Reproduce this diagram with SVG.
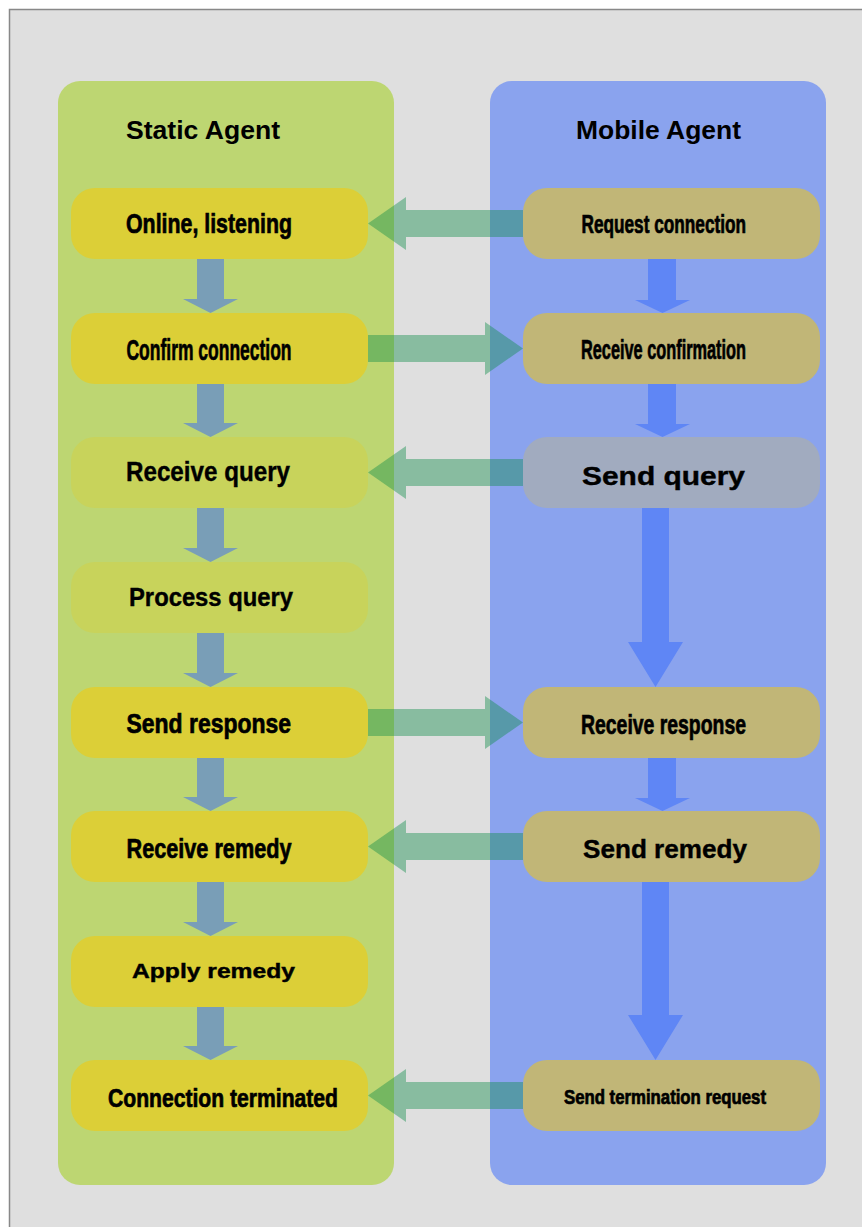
<svg xmlns="http://www.w3.org/2000/svg" width="862" height="1227" viewBox="0 0 862 1227">
  <style>
    .panel-static { fill: #bdd672; }
    .panel-mobile { fill: #8aa3ee; }
    .node-static { fill: #dccf37; }
    .node-static-light { fill: #c8d35b; }
    .node-mobile { fill: #c1b677; }
    .node-mobile-grey { fill: #a1abbf; }
    .flow-static { fill: #799eb7; }
    .flow-mobile { fill: #5f86f5; }
    .msg { fill: #118d4b; fill-opacity: 0.42; }
    text { font-family: "Liberation Sans", Arial, sans-serif; font-weight: bold; fill: #000; }
    .title { font-size: 25px; }
    .cond { stroke: #000; stroke-width: 0.7px; }
    .wide { stroke: #000; stroke-width: 0.4px; }
  </style>

  <!-- page frame -->
  <rect x="0" y="0" width="862" height="1227" fill="#ffffff"/>
  <rect x="9.5" y="9.5" width="900" height="1300" fill="#dfdfdf" stroke="#888888" stroke-width="1.5"/>

  <!-- swimlanes -->
  <g id="lane-static">
    <rect class="panel-static" x="58" y="81" width="336" height="1104" rx="22"/>
    <text class="title" x="126" y="139" textLength="154" lengthAdjust="spacingAndGlyphs">Static Agent</text>
  </g>
  <g id="lane-mobile">
    <rect class="panel-mobile" x="490" y="81" width="336" height="1104" rx="22"/>
    <text class="title" x="576" y="139" textLength="165" lengthAdjust="spacingAndGlyphs">Mobile Agent</text>
  </g>

  <!-- connectors -->
  <g id="connectors">
    <!-- static agent sequence -->
    <path class="flow-static" d="M197 259 H224 V299 H238 L210.5 313 L183 299 H197 Z"/>
    <path class="flow-static" d="M197 384 H224 V423 H238 L210.5 437 L183 423 H197 Z"/>
    <path class="flow-static" d="M197 508 H224 V548 H238 L210.5 562 L183 548 H197 Z"/>
    <path class="flow-static" d="M197 633 H224 V673 H238 L210.5 687 L183 673 H197 Z"/>
    <path class="flow-static" d="M197 758 H224 V797 H238 L210.5 811 L183 797 H197 Z"/>
    <path class="flow-static" d="M197 882 H224 V922 H238 L210.5 936 L183 922 H197 Z"/>
    <path class="flow-static" d="M197 1007 H224 V1046 H238 L210.5 1060 L183 1046 H197 Z"/>

    <!-- mobile agent sequence -->
    <path class="flow-mobile" d="M648 259 H676 V300 H690 L662.5 313 L635 300 H648 Z"/>
    <path class="flow-mobile" d="M648 384 H676 V424 H690 L662.5 437 L635 424 H648 Z"/>
    <path class="flow-mobile" d="M642 508 H669 V642 H683 L655.5 687 L628 642 H642 Z"/>
    <path class="flow-mobile" d="M648 758 H676 V798 H690 L662.5 811 L635 798 H648 Z"/>
    <path class="flow-mobile" d="M642 882 H669 V1015 H683 L655.5 1060 L628 1015 H642 Z"/>

    <!-- messages between agents -->
    <path class="msg" d="M523 210 V237 H406 V250 L368 223.5 L406 197 V210 Z"/>
    <path class="msg" d="M368 335 H485 V322 L523 348.5 L485 375 V362 H368 Z"/>
    <path class="msg" d="M523 459 V486 H406 V499 L368 472.5 L406 446 V459 Z"/>
    <path class="msg" d="M368 709 H485 V696 L523 722.5 L485 749 V736 H368 Z"/>
    <path class="msg" d="M523 833 V860 H406 V873 L368 846.5 L406 820 V833 Z"/>
    <path class="msg" d="M523 1082 V1109 H406 V1122 L368 1095.5 L406 1069 V1082 Z"/>
  </g>

  <!-- static agent states -->
  <g id="online-listening">
    <rect class="node-static" x="71" y="188" width="297" height="71" rx="24"/>
    <text class="cond" x="126" y="233" font-size="27" textLength="166" lengthAdjust="spacingAndGlyphs">Online, listening</text>
  </g>
  <g id="confirm-connection">
    <rect class="node-static" x="71" y="313" width="297" height="71" rx="24"/>
    <text class="cond" x="126.5" y="360" font-size="29" textLength="165" lengthAdjust="spacingAndGlyphs">Confirm connection</text>
  </g>
  <g id="receive-query">
    <rect class="node-static-light" x="71" y="437" width="297" height="71" rx="24"/>
    <text class="wide" x="126" y="481" font-size="27" textLength="164" lengthAdjust="spacingAndGlyphs">Receive query</text>
  </g>
  <g id="process-query">
    <rect class="node-static-light" x="71" y="562" width="297" height="71" rx="24"/>
    <text class="wide" x="129" y="605.5" font-size="25" textLength="164" lengthAdjust="spacingAndGlyphs">Process query</text>
  </g>
  <g id="send-response">
    <rect class="node-static" x="71" y="687" width="297" height="71" rx="24"/>
    <text class="cond" x="126.5" y="733" font-size="28" textLength="164.5" lengthAdjust="spacingAndGlyphs">Send response</text>
  </g>
  <g id="receive-remedy">
    <rect class="node-static" x="71" y="811" width="297" height="71" rx="24"/>
    <text class="cond" x="126.5" y="858" font-size="28" textLength="165" lengthAdjust="spacingAndGlyphs">Receive remedy</text>
  </g>
  <g id="apply-remedy">
    <rect class="node-static" x="71" y="936" width="297" height="71" rx="24"/>
    <text class="wide" x="132" y="978" font-size="19.5" textLength="163" lengthAdjust="spacingAndGlyphs">Apply remedy</text>
  </g>
  <g id="connection-terminated">
    <rect class="node-static" x="71" y="1060" width="297" height="71" rx="24"/>
    <text class="cond" x="108" y="1106.5" font-size="25" textLength="230" lengthAdjust="spacingAndGlyphs">Connection terminated</text>
  </g>

  <!-- mobile agent states -->
  <g id="request-connection">
    <rect class="node-mobile" x="523" y="188" width="297" height="71" rx="24"/>
    <text class="cond" x="581.5" y="232.5" font-size="25" textLength="164.5" lengthAdjust="spacingAndGlyphs">Request connection</text>
  </g>
  <g id="receive-confirmation">
    <rect class="node-mobile" x="523" y="313" width="297" height="71" rx="24"/>
    <text class="cond" x="581" y="358.5" font-size="28" textLength="165" lengthAdjust="spacingAndGlyphs">Receive confirmation</text>
  </g>
  <g id="send-query">
    <rect class="node-mobile-grey" x="523" y="437" width="297" height="71" rx="24"/>
    <text class="wide" x="582" y="485" font-size="26.5" textLength="163" lengthAdjust="spacingAndGlyphs">Send query</text>
  </g>
  <g id="receive-response">
    <rect class="node-mobile" x="523" y="687" width="297" height="71" rx="24"/>
    <text class="cond" x="581" y="734" font-size="27" textLength="165" lengthAdjust="spacingAndGlyphs">Receive response</text>
  </g>
  <g id="send-remedy">
    <rect class="node-mobile" x="523" y="811" width="297" height="71" rx="24"/>
    <text class="wide" x="583" y="858" font-size="26" textLength="164" lengthAdjust="spacingAndGlyphs">Send remedy</text>
  </g>
  <g id="send-termination-request">
    <rect class="node-mobile" x="523" y="1060" width="297" height="71" rx="24"/>
    <text class="cond" x="564" y="1104" font-size="19.5" textLength="202" lengthAdjust="spacingAndGlyphs">Send termination request</text>
  </g>
</svg>
